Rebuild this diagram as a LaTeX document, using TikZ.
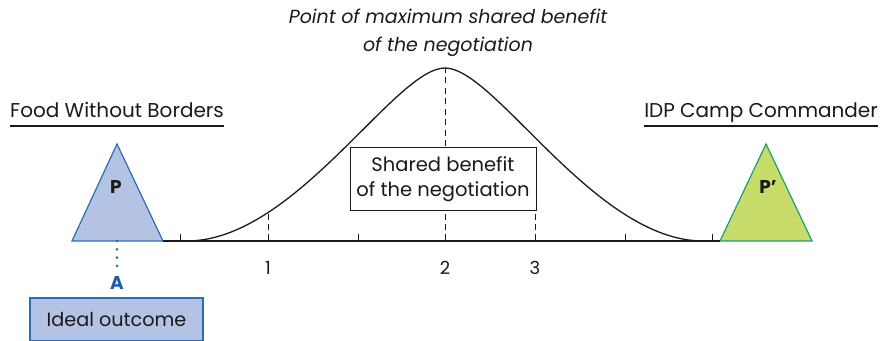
\documentclass[tikz,border=0pt]{standalone}
\usepackage{fontspec}
\setmainfont{Poppins}
\usetikzlibrary{positioning,calc}
\definecolor{ink}{HTML}{1A1A1A}
\definecolor{fwbline}{HTML}{2A6DB5}
\definecolor{fwbfill}{HTML}{B4C2E4}
\definecolor{idpline}{HTML}{1AA06E}
\definecolor{idpfill}{HTML}{C8DC6B}
\definecolor{atext}{HTML}{1F5DA8}
\tikzset{
  party/.style={font=\fontsize{20}{22}\selectfont, text=ink, inner sep=0pt, anchor=base west},
  underl/.style={line width=1.2pt, draw=ink},
  tri/.style={line width=1.2pt, line join=miter},
  tag/.style={font=\fontsize{18.5}{20}\selectfont\bfseries, text=ink, inner sep=0pt},
  axis/.style={line width=1.3pt, draw=ink},
  guide/.style={line width=1pt, draw=ink, dash pattern=on 6pt off 4.5pt},
  tick/.style={line width=1pt, draw=ink},
  dots/.style={line width=3pt, draw=fwbline, line cap=round, dash pattern=on 0pt off 8.3pt},
  num/.style={font=\fontsize{18}{20}\selectfont, text=ink, inner sep=0pt},
  benefit/.style={draw=ink, fill=white, line width=1pt, align=center,
                  font=\fontsize{19.5}{25}\selectfont, text=ink,
                  minimum width=186pt, minimum height=63pt, inner sep=0pt},
  outcome/.style={draw=fwbline, fill=fwbfill, line width=1.2pt,
                  font=\fontsize{19.2}{22}\selectfont, text=ink,
                  minimum width=173pt, minimum height=43pt, inner sep=0pt},
  peaklbl/.style={font=\fontsize{19}{28}\selectfont\itshape, text=ink, align=center, inner sep=0pt},
}
\begin{document}
\begin{tikzpicture}[x=1pt,y=1pt]
\useasboundingbox (0,0) rectangle (880,340);

\node[peaklbl] (top) at (448,307) {Point of maximum shared benefit\\of the negotiation};

\node[party] (fwb) at (10,222) {Food Without Borders};
\draw[underl] ([yshift=-8pt]fwb.base west) -- ([yshift=-8pt]fwb.base east);
\node[party, anchor=base east] (idp) at (878,222) {IDP Camp Commander};
\draw[underl] ([yshift=-8pt]idp.base west) -- ([yshift=-8pt]idp.base east);

\coordinate (pl) at (72,99);
\coordinate (pr) at (163,99);
\coordinate (pt) at (117,196);
\coordinate (pm) at (117,99);
\coordinate (ql) at (720,99);
\coordinate (qr) at (812,99);
\coordinate (qt) at (766,196);
\draw[tri, draw=fwbline, fill=fwbfill] (pl) -- (pt) -- (pr) -- cycle;
\draw[tri, draw=idpline, fill=idpfill] (ql) -- (qt) -- (qr) -- cycle;
\node[tag] (p) at (116,153) {P};
\node[tag] (pp) at (768,153) {P’};

\draw[axis] (pr) -- (ql);
\coordinate (lfoot) at (187,99);
\coordinate (peak) at (445,272);
\coordinate (rfoot) at (703,99);
\draw[axis] (lfoot) .. controls (295,99) and (395,272) .. (peak)
            .. controls (495,272) and (595,99) .. (rfoot);

\foreach \x in {180,268,358,445,535,625,712}
  \draw[tick] (\x,99) -- ++(0,7);

\coordinate (g1) at (268,126);
\coordinate (g3) at (535,150);
\draw[guide] (268,99) -- (g1);
\draw[guide] (445,99) -- (peak);
\draw[guide] (535,99) -- (g3);

\node[benefit] (shared) at (443,160.5) {Shared benefit\\of the negotiation};

\node[num] (n1) at (268,72) {1};
\node[num] (n2) at (445,72) {2};
\node[num] (n3) at (535,72) {3};

\node[tag, text=atext] (a) at (117,57) {A};
\draw[dots] (pm) -- ([yshift=10pt]a.north);

\node[outcome] (ideal) at (116.5,20.5) {Ideal outcome};
\end{tikzpicture}
\end{document}
